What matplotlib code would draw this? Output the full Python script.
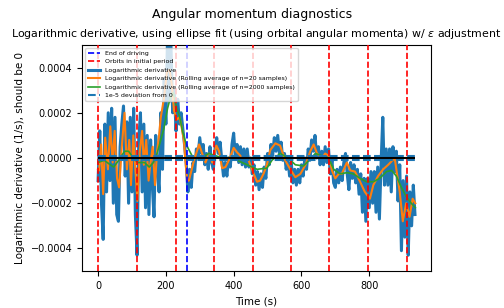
import numpy as np
import matplotlib
matplotlib.use('Agg')
import matplotlib.pyplot as plt

## Values, in units of 1e-4 1/s
scale = 1e-4

## Raw logarithmic derivative, one sample every 5 s from t=0
log_v = [
    -1.0, 1.2, -2.0, -3.6, 1.5, -1.5, 2.0, -1.0, 2.2, -2.0,
    1.8, -2.5, -2.8, 0.5, 1.5, 2.3, -0.8, 1.6, -2.0, 1.8,
    -1.5, 2.2, -2.5, -4.3, 0.8, 2.0, -1.5, 1.5, -2.2, 1.0,
    -2.5, 0.8, -1.2, -2.6, 1.0, -0.5, -1.5, 2.0, -0.5, 3.5,
    1.5, 5.5, 2.5, 5.0, 2.0, 3.0, 1.2, 2.6, 1.5, 2.0,
    1.3, 0.6, -0.2, -1.5, -0.5, -1.3, -0.2, -0.6, 0.4, 0.1,
    0.9, 0.2, 0.6, -0.3, 0.2, -0.5, 0.5, -0.2, -0.5, 0.4,
    0.9, 0.2, 0.7, -0.1, -0.8, -0.2, -0.8, 0.0, -0.4, 0.6,
    1.1, 0.0, 0.6, -0.2, 0.5, -0.3, 0.4, -0.4, 0.4, -0.4,
    0.0, -0.7, -0.3, -1.2, -0.6, -1.4, -0.7, -1.3, -0.4, -0.9,
    0.2, -0.3, 0.6, 0.1, 0.9, 0.3, 1.0, 0.2, 0.7, -0.1,
    0.2, -0.5, 0.0, -0.8, -0.2, -1.1, -0.5, -1.2, -0.5, -1.1,
    -0.3, -0.8, 0.0, -0.5, 0.4, -0.1, 0.8, 0.3, 1.0, 0.0,
    0.5, -0.3, 0.3, -0.3, 0.5, -0.2, 0.4, -0.7, -0.1, -1.1,
    -1.3, -0.5, -1.1, -0.4, -1.0, -0.2, 0.2, -0.7, -1.4, -0.2,
    -0.9, -0.3, -1.1, -0.5, -1.6, -0.7, -2.4, -0.9, -2.8, -0.9,
    -2.2, -0.6, -2.0, -0.6, -2.4, -0.4, -2.7, -0.2, 1.8, -1.2,
    0.4, -1.2, 0.4, -1.5, 0.5, -0.6, 0.3, -1.9, -0.3, -4.1,
    -1.0, -3.5, -0.8, -4.3, -1.5, -3.0, -1.2, -2.5,
]
log_t = np.arange(0, 5 * len(log_v), 5)

## Rolling average, n=20
roll20_t = [0, 3, 9, 15, 21, 29, 36, 43, 49, 56, 62, 70, 78, 85, 92, 97, 104, 110, 116, 123,
            130, 135, 142, 149, 154, 161, 168, 174, 180, 185, 194, 203, 211, 217, 224, 232, 240, 246, 253, 258,
            263, 268, 283, 298, 307, 317, 327, 337, 349, 357, 366, 376, 386, 400, 410, 420, 429, 439, 449, 459,
            469, 478, 488, 498, 508, 523, 537, 552, 567, 582, 597, 612, 626, 636, 646, 661, 670, 680, 690, 700,
            710, 719, 734, 744, 758, 773, 787, 802, 812, 826, 841, 856, 875, 890, 899, 909, 919, 928, 936]
roll20_v = [-0.5, -0.55, 0.6, -1.6, 0.9, -0.5, 1.4, -0.2, 1.2, -0.9, -1.3, 0.5, 2.0, -0.5, 0.8, -1.2, 1.0, -0.5, -1.9, 0.3,
            1.2, -0.3, 0.8, -1.0, -0.3, 0.5, -1.2, 0.3, 1.0, 1.8, 2.6, 3.8, 3.9, 3.3, 2.1, 1.7, 1.8, 1.4, 0.8, -0.2,
            -1.0, -1.0, -0.1, 0.6, 0.2, -0.2, 0.2, -0.2, 0.55, 0.3, -0.45, -0.4, -0.1, 0.45, 0.25, 0.1, 0.0, 0.1, -0.3, -0.7,
            -1.05, -1.0, -0.7, -0.3, 0.35, 0.65, 0.55, -0.1, -0.5, -0.85, -0.7, -0.3, 0.3, 0.6, 0.2, 0.0, 0.2, 0.1, -0.55, -0.9,
            -0.7, -0.7, -0.2, -0.55, -0.6, -1.05, -1.5, -1.8, -1.2, -0.8, -0.5, -0.3, 0.0, -1.5, -2.8, -2.0, -2.6, -1.8, -2.0]

## Rolling average, n=2000
roll2000_t = [0, 18, 36, 46, 61, 78, 90, 104, 117, 137, 151, 163, 174, 185, 194, 205, 214, 222, 232, 241,
              249, 258, 265, 279, 298, 327, 357, 396, 425, 469, 498, 513, 537, 561, 582, 606, 616, 641, 661, 680,
              695, 714, 734, 753, 773, 792, 812, 831, 851, 866, 880, 895, 909, 924, 936]
roll2000_v = [-0.2, -0.1, -0.3, -0.4, -0.1, 0.3, 0.3, 0.0, -0.2, -0.2, -0.4, -0.2, 0.2, 0.8, 1.3, 2.2, 2.7, 2.9, 2.2, 1.8,
              1.2, 0.7, 0.45, 0.05, -0.05, 0.2, 0.05, 0.0, -0.2, -0.5, -0.45, -0.1, 0.2, 0.0, -0.3, -0.35, -0.2, 0.2, 0.1, 0.0,
              -0.5, -0.7, -0.65, -0.7, -0.9, -1.05, -1.05, -0.9, -0.6, -0.55, -0.8, -1.3, -1.7, -2.0, -2.2]

## Event times (s)
end_of_driving = 262
orbit_times = [0, 115, 229, 341, 456, 570, 682, 797, 911]
deviation = 1e-5
t_end = 935


def main():

    fig, ax = plt.subplots(figsize=(5.04, 3.08), dpi=100)
    fig.subplots_adjust(left=0.163, right=0.855, bottom=0.12, top=0.854)

    ax.axvline(end_of_driving, color='b', ls='--', lw=1.2, zorder=3, label='End of driving')
    for i, t in enumerate(orbit_times):
        ax.axvline(t, color='r', ls='--', lw=1.2, zorder=3,
                   label='Orbits in initial period' if i == 0 else None)

    ax.plot(log_t, np.array(log_v) * scale, color='C0', lw=2.2, label='Logarithmic derivative')
    ax.plot(roll20_t, np.array(roll20_v) * scale, color='C1', lw=1.5,
            label='Logarithmic derivative (Rolling average of n=20 samples)')
    ax.plot(roll2000_t, np.array(roll2000_v) * scale, color='C2', lw=1.2,
            label='Logarithmic derivative (Rolling average of n=2000 samples)')

    ax.hlines([deviation, -deviation], 0, t_end, colors='C0', linestyles='--', lw=1.5, zorder=4,
              label='1e-5 deviation from 0')
    ax.hlines(0, 0, t_end, colors='k', lw=1.5, zorder=4)

    ax.set_xlim(-47, 982)
    ax.set_ylim(-5e-4, 5e-4)
    ax.set_yticks([-4e-4, -2e-4, 0, 2e-4, 4e-4])
    ax.tick_params(labelsize=7)

    ax.set_xlabel('Time (s)', fontsize=7.5)
    ax.set_ylabel('Logarithmic derivative (1/s), should be 0', fontsize=7.5)
    ax.set_title(r'Logarithmic derivative, using ellipse fit (using orbital angular momenta) w/ $\epsilon$ adjustment',
                 fontsize=7.9)
    fig.suptitle('Angular momentum diagnostics', fontsize=9, y=0.975)

    ax.legend(loc='upper left', fontsize=4.5)

    fig.savefig('out.png', dpi=100)


if __name__ == '__main__':

    main()
